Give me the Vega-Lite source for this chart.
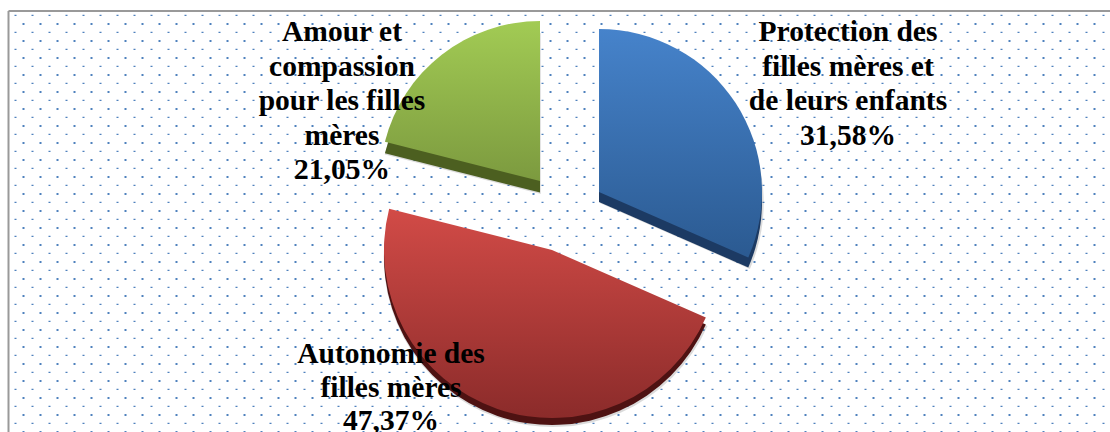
{
"$schema":"https://vega.github.io/schema/vega-lite/v6.json",
"autosize":"none","width":1101.5,"height":421,
"padding":{"left":8.5,"top":11,"right":0,"bottom":0},
"background":"white",
"view":{"stroke":null},
"config":{"axis":{"disable":true}},
"datasets":{
"slices":[
{"name":"Protection","value":31.58,"label":"Protection des\nfilles mères et\nde leurs enfants\n31,58%"},
{"name":"Autonomie","value":47.37,"label":"Autonomie des\nfilles mères\n47,37%"},
{"name":"Amour","value":21.05,"label":"Amour et\ncompassion\npour les filles\nmères\n21,05%"}],
"rowsA":[{"v":4.3},{"v":21.3},{"v":38.3},{"v":55.3},{"v":72.3},{"v":89.3},{"v":106.3},{"v":123.3},{"v":140.3},{"v":157.3},{"v":174.3},{"v":191.3},{"v":208.3},{"v":225.3},{"v":242.3},{"v":259.3},{"v":276.3},{"v":293.3},{"v":310.3},{"v":327.3},{"v":344.3},{"v":361.3},{"v":378.3},{"v":395.3},{"v":412.3}],
"rowsB":[{"v":13},{"v":30},{"v":47},{"v":64},{"v":81},{"v":98},{"v":115},{"v":132},{"v":149},{"v":166},{"v":183},{"v":200},{"v":217},{"v":234},{"v":251},{"v":268},{"v":285},{"v":302},{"v":319},{"v":336},{"v":353},{"v":370},{"v":387},{"v":404},{"v":421}],
"frame":[{"v":0}]
},
"layer":[
{"data":{"name":"rowsA"},"mark":{"type":"rule","color":"#4f81bd","strokeWidth":1.3,"strokeDash":[2,15],"strokeDashOffset":11.5},
 "encoding":{"y":{"field":"v","type":"quantitative","scale":{"domain":[0,421],"reverse":true,"nice":false,"zero":false}}}},
{"data":{"name":"rowsB"},"mark":{"type":"rule","color":"#4f81bd","strokeWidth":2.2,"strokeDash":[2,15],"strokeDashOffset":2.5},
 "encoding":{"y":{"field":"v","type":"quantitative"}}},
{"data":{"name":"frame"},"mark":{"type":"rule","color":"#999999","strokeWidth":2},"encoding":{"y":{"field":"v","type":"quantitative"}}},
{"data":{"name":"frame"},"mark":{"type":"rule","color":"#999999","strokeWidth":2},"encoding":{"x":{"field":"v","type":"quantitative","scale":{"domain":[0,1]}}}},
{"data":{"name":"slices"},
 "transform":[{"stack":"value","groupby":[],"as":["t0","t1"]}],
 "encoding":{
  "theta":{"field":"t0","type":"quantitative","stack":null,"scale":{"domain":[0,100],"range":[0,6.28319]}},
  "theta2":{"field":"t1"}},
 "layer":[
  {"transform":[{"filter":"datum.name==='Protection'"}],"layer":[
   {"mark":{"type":"arc","outerRadius":164,"xOffset":40.5,"yOffset":-18.5,"fill":"#000000","opacity":0.14}},
   {"mark":{"type":"arc","outerRadius":163,"xOffset":39.75,"yOffset":-19.5,"fill":"#1c3a63"}},
   {"mark":{"type":"arc","outerRadius":163,"xOffset":39.75,"yOffset":-29.5,"fill":{"gradient":"linear","x1":0,"y1":0,"x2":0,"y2":1,"stops":[{"offset":0,"color":"#4683cb"},{"offset":1,"color":"#2b5a91"}]}}}
  ]},
  {"transform":[{"filter":"datum.name==='Amour'"}],"layer":[
   {"mark":{"type":"arc","outerRadius":161,"xOffset":-18.5,"yOffset":-27.5,"fill":"#000000","opacity":0.14}},
   {"mark":{"type":"arc","outerRadius":160,"xOffset":-19.25,"yOffset":-29,"fill":"#4c5f20"}},
   {"mark":{"type":"arc","outerRadius":160,"xOffset":-19.25,"yOffset":-40.5,"fill":{"gradient":"linear","x1":0,"y1":0,"x2":0,"y2":1,"stops":[{"offset":0,"color":"#a2cb54"},{"offset":1,"color":"#7c9a3f"}]}}}
  ]},
  {"transform":[{"filter":"datum.name==='Autonomie'"}],"layer":[
   {"mark":{"type":"arc","outerRadius":169,"xOffset":-6.5,"yOffset":36.5,"fill":"#000000","opacity":0.14}},
   {"mark":{"type":"arc","outerRadius":168,"xOffset":-7.25,"yOffset":35.5,"fill":"#4e1212"}},
   {"mark":{"type":"arc","outerRadius":168,"xOffset":-7.25,"yOffset":28.5,"fill":{"gradient":"linear","x1":0,"y1":0,"x2":0,"y2":1,"stops":[{"offset":0,"color":"#d24b47"},{"offset":1,"color":"#8b2b2a"}]}}}
  ]}
 ]},
{"data":{"name":"slices"},"transform":[{"filter":"datum.name==='Protection'"}],
 "mark":{"type":"text","font":"Liberation Serif","fontWeight":"bold","fontSize":29.5,"lineHeight":34.5,"lineBreak":"\n","align":"center","baseline":"middle","color":"#000000","xOffset":288.75,"yOffset":-189.5},
 "encoding":{"text":{"field":"label"}}},
{"data":{"name":"slices"},"transform":[{"filter":"datum.name==='Amour'"}],
 "mark":{"type":"text","font":"Liberation Serif","fontWeight":"bold","fontSize":29.5,"lineHeight":34.5,"lineBreak":"\n","align":"center","baseline":"middle","color":"#000000","xOffset":-217.25,"yOffset":-189.5},
 "encoding":{"text":{"field":"label"}}},
{"data":{"name":"slices"},"transform":[{"filter":"datum.name==='Autonomie'"}],
 "mark":{"type":"text","font":"Liberation Serif","fontWeight":"bold","fontSize":29.5,"lineHeight":33.5,"lineBreak":"\n","align":"center","baseline":"middle","color":"#000000","xOffset":-168.25,"yOffset":132.5},
 "encoding":{"text":{"field":"label"}}}
]
}
